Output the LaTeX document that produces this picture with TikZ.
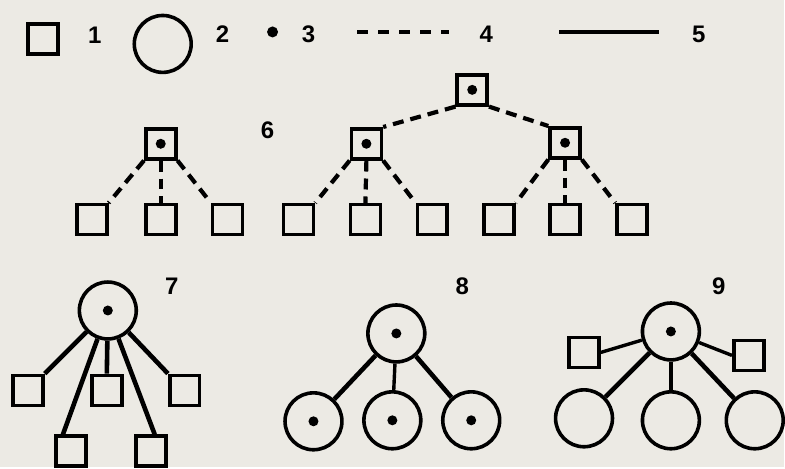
\documentclass[tikz,border=0pt]{standalone}
\usepackage{fontspec}
\setmainfont{Liberation Sans}
\usetikzlibrary{positioning}
\definecolor{paper}{RGB}{236,234,228}

\begin{document}
\begin{tikzpicture}[
    x=1pt, y=-1pt,
    sq/.style={draw, line width=3.6pt, minimum size=30pt, inner sep=0pt},
    ring/.style={draw, circle, line width=3.6pt, minimum size=57pt, inner sep=0pt},
    core/.style={path picture={\fill (path picture bounding box.center) circle (5pt);}},
    tie/.style={line width=4.6pt},
    thintie/.style={line width=3.4pt},
    dtie/.style={line width=4.2pt, dash pattern=on 11pt off 7pt},
    num/.style={font=\bfseries\fontsize{24}{24}\selectfont, inner sep=0pt}
]
\fill[paper] (0,0) rectangle (785,468);

% legend
\node[sq] (leg1) at (43,39) {};
\node[num] (n1) at (95,35) {1};
\node[ring] (leg2) at (163,44) {};
\node[num] (n2) at (223,34) {2};
\node[circle, fill, minimum size=11pt, inner sep=0pt] (leg3) at (273,32) {};
\node[num] (n3) at (309,34) {3};
\coordinate (leg4a) at (358,32);
\coordinate (leg4b) at (450,32);
\draw[line width=3.6pt, dash pattern=on 11pt off 10pt] (leg4a) -- (leg4b);
\node[num] (n4) at (487,34) {4};
\coordinate (leg5a) at (560,32);
\coordinate (leg5b) at (660,32);
\draw[line width=3.6pt] (leg5a) -- (leg5b);
\node[num] (n5) at (700,34) {5};

% 6
\node[sq, core] (a0) at (161,144) {};
\node[sq] (a1) at (92,220) {};
\node[sq] (a2) at (161,220) {};
\node[sq] (a3) at (228,220) {};
\draw[dtie] (a0.south west) -- (a1.north east);
\draw[dtie] (a0.south) -- (a2.north);
\draw[dtie] (a0.south east) -- (a3.north west);
\node[num] (n6) at (268,130) {6};

\node[sq, core] (b0) at (473,90) {};
\node[sq, core] (b1) at (367,144) {};
\node[sq, core] (b2) at (566,143) {};
\node[sq] (b11) at (299,220) {};
\node[sq] (b12) at (366,220) {};
\node[sq] (b13) at (433,220) {};
\node[sq] (b21) at (500,220) {};
\node[sq] (b22) at (566,220) {};
\node[sq] (b23) at (633,220) {};
\draw[dtie] (b0.south west) -- (b1.north east);
\draw[dtie] (b0.south east) -- (b2.north west);
\draw[dtie] (b1.south west) -- (b11.north east);
\draw[dtie] (b1.south) -- (b12.north);
\draw[dtie] (b1.south east) -- (b13.north west);
\draw[dtie] (b2.south west) -- (b21.north east);
\draw[dtie] (b2.south) -- (b22.north);
\draw[dtie] (b2.south east) -- (b23.north west);

% 7
\node[ring, core] (c0) at (108,311) {};
\node[sq] (c1) at (28,391) {};
\node[sq] (c2) at (107,391) {};
\node[sq] (c3) at (185,391) {};
\node[sq] (c4) at (71,452) {};
\node[sq] (c5) at (151,452) {};
\draw[tie] (c0) -- (c1.north east);
\draw[tie] (c0) -- ([xshift=-8pt]c4.north);
\draw[tie] (c0) -- (c2.north);
\draw[tie] (c0) -- ([xshift=4pt]c5.north);
\draw[tie] (c0) -- (c3.north west);
\node[num] (n7) at (172,287) {7};

% 8
\node[ring, core] (e0) at (397,334) {};
\node[ring, core] (e1) at (314,422) {};
\node[ring, core] (e2) at (393,421) {};
\node[ring, core] (e3) at (472,421) {};
\draw[tie] (e0) -- (e1);
\draw[thintie] (e0) -- (e2);
\draw[tie] (e0) -- (e3);
\node[num] (n8) at (463,287) {8};

% 9
\node[ring, core] (f0) at (672,332) {};
\node[sq] (f1) at (585,353) {};
\node[sq] (f2) at (750,356) {};
\node[ring] (f3) at (585,419) {};
\node[ring] (f4) at (672,421) {};
\node[ring] (f5) at (756,421) {};
\draw[thintie] (f1.east) -- (f0);
\draw[thintie] (f0) -- (f2.west);
\draw[tie] (f0) -- (f3);
\draw[thintie] (f0) -- (f4);
\draw[tie] (f0) -- (f5);
\node[num] (n9) at (720,287) {9};
\end{tikzpicture}
\end{document}
